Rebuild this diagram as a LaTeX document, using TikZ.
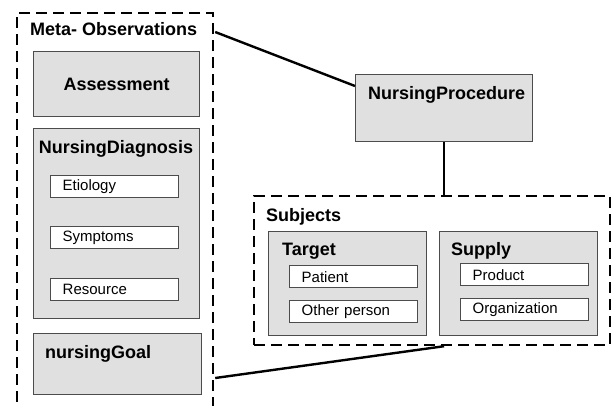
\documentclass[tikz,border=0pt]{standalone}
\usepackage{fontspec}
\setmainfont{Liberation Sans}
\usetikzlibrary{calc}

\begin{document}
\begin{tikzpicture}[x=1pt,y=-1pt,
grp/.style={draw,line width=2.2pt,dash pattern=on 11pt off 6pt,inner sep=0pt,anchor=north west},
cls/.style={draw=black!70,fill=black!12,line width=1.4pt,inner sep=0pt,anchor=north west},
attr/.style={draw=black!70,fill=white,line width=1.4pt,inner xsep=12pt,inner ysep=0pt,text width=104pt,minimum height=22pt,align=left,anchor=north west,font=\fontsize{15}{17}\selectfont},
ttl/.style={anchor=base west,inner sep=0pt,font=\fontsize{18}{20}\selectfont\bfseries},
link/.style={line width=2.4pt}
]
\useasboundingbox (0,0) rectangle (613,405);
\clip (0,0) rectangle (613,405);

% meta observations (open at the bottom)
\node[grp,minimum width=196pt,minimum height=420pt] (meta) at (16,12) {};
\node[ttl] (metatitle) at (30,35) {Meta- Observations};
\node[cls,minimum width=166pt,minimum height=65pt,font=\fontsize{18}{20}\selectfont\bfseries] (assess) at (33,51) {Assessment};
\node[cls,minimum width=166pt,minimum height=190pt] (diag) at (33,128) {};
\node[ttl,anchor=base] (diagtitle) at (116,153) {NursingDiagnosis};
\node[attr] (etio) at (50,175) {Etiology};
\node[attr] (sympt) at (50,226) {Symptoms};
\node[attr] (res) at (50,278) {Resource};
\node[cls,minimum width=168pt,minimum height=61pt] (goal) at (33,333) {};
\node[ttl] (goaltitle) at (45,358) {nursingGoal}; % <- end meta

% procedure
\node[cls,minimum width=177pt,minimum height=67pt] (proc) at (355,74) {};
\node[ttl] (proctitle) at (368,99) {NursingProcedure};

% subjects
\node[grp,minimum width=356pt,minimum height=149pt] (subj) at (253,195) {};
\node[ttl] (subjtitle) at (266,221) {Subjects};
\node[cls,minimum width=158pt,minimum height=104pt] (target) at (268,231) {};
\node[ttl] (targettitle) at (282,255) {Target};
\node[attr] (patient) at (289,265) {Patient};
\node[attr] (other) at (289,300) {Other person};
\node[cls,minimum width=158pt,minimum height=104pt] (supply) at (439,231) {};
\node[ttl] (supplytitle) at (451,255) {Supply};
\node[attr] (product) at (460,263) {Product};
\node[attr] (org) at (460,298) {Organization}; % <- end subjects

\draw[link] ($(meta.north east)+(1,20)$) -- ($(proc.north west)+(0,12)$);
\draw[link] (proc.south) -- (proc.south |- subj.north);
\draw[link] ($(meta.north east)+(1,366)$) -- ($(subj.south)+(12,0)$);
\end{tikzpicture}
\end{document}
